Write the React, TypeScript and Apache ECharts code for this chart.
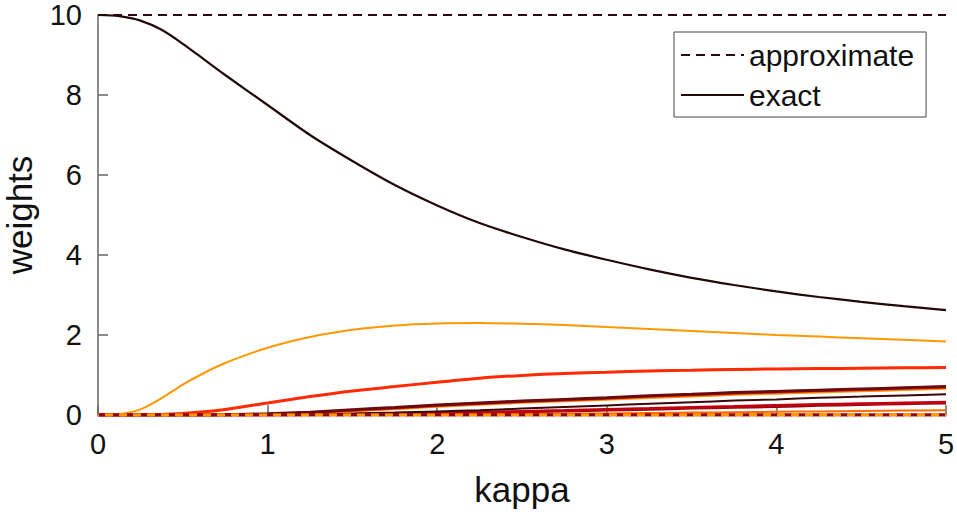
import React, { useEffect, useRef } from "react";
import * as echarts from "echarts";

const kappa = [0, 0.125, 0.25, 0.375, 0.5, 0.625, 0.75, 1, 1.25, 1.5, 1.75, 2, 2.25, 2.5, 2.75, 3, 3.25, 3.5, 3.75, 4, 4.25, 4.5, 4.75, 5];

const xTicks = [0, 1, 2, 3, 4, 5];
const yTicks = [0, 2, 4, 6, 8, 10];

// exact weights
const exact1 = [10, 9.97, 9.86, 9.63, 9.28, 8.89, 8.5, 7.75, 7.0, 6.35, 5.75, 5.24, 4.8, 4.45, 4.14, 3.88, 3.64, 3.43, 3.25, 3.09, 2.95, 2.83, 2.72, 2.62];
const exact2 = [0, 0.02, 0.14, 0.42, 0.76, 1.05, 1.3, 1.68, 1.95, 2.13, 2.24, 2.29, 2.3, 2.28, 2.25, 2.2, 2.15, 2.1, 2.05, 2.0, 1.96, 1.92, 1.88, 1.84];
const exact3 = [0, 0, 0.005, 0.015, 0.04, 0.08, 0.14, 0.3, 0.46, 0.6, 0.71, 0.82, 0.92, 0.99, 1.04, 1.07, 1.1, 1.12, 1.14, 1.15, 1.16, 1.17, 1.18, 1.19];
const exact4 = [0, 0, 0, 0, 0, 0, 0.005, 0.03, 0.07, 0.13, 0.19, 0.25, 0.3, 0.35, 0.39, 0.43, 0.48, 0.52, 0.56, 0.59, 0.62, 0.65, 0.68, 0.71];
const exact5 = [0, 0, 0, 0, 0, 0, 0.003, 0.02, 0.06, 0.11, 0.17, 0.23, 0.28, 0.33, 0.37, 0.41, 0.46, 0.5, 0.54, 0.57, 0.6, 0.63, 0.66, 0.69];
const exact6 = [0, 0, 0, 0, 0, 0, 0.002, 0.015, 0.05, 0.1, 0.15, 0.21, 0.26, 0.31, 0.35, 0.39, 0.43, 0.47, 0.51, 0.54, 0.57, 0.6, 0.63, 0.66];
const exact7 = [0, 0, 0, 0, 0, 0, 0, 0.01, 0.02, 0.04, 0.06, 0.09, 0.12, 0.16, 0.2, 0.24, 0.28, 0.32, 0.36, 0.39, 0.43, 0.46, 0.49, 0.52];
const exact8 = [0, 0, 0, 0, 0, 0, 0, 0, 0.01, 0.02, 0.03, 0.05, 0.07, 0.09, 0.11, 0.14, 0.16, 0.19, 0.21, 0.24, 0.26, 0.28, 0.3, 0.32];
const exact9 = [0, 0, 0, 0, 0, 0, 0, 0, 0.005, 0.01, 0.02, 0.03, 0.05, 0.07, 0.09, 0.11, 0.13, 0.16, 0.18, 0.2, 0.23, 0.25, 0.27, 0.29];
const exact10 = [0, 0, 0, 0, 0, 0, 0, 0, 0, 0.005, 0.01, 0.015, 0.02, 0.025, 0.03, 0.04, 0.05, 0.06, 0.07, 0.08, 0.09, 0.1, 0.11, 0.12];

// approximate weights (constant)
const approx1 = kappa.map(() => 10);
const approxZero = kappa.map(() => 0);

const exactSeries = [
  { values: exact10, color: "#ff6a00", width: 2 },
  { values: exact9, color: "#8a0a12", width: 2 },
  { values: exact8, color: "#c0000e", width: 3 },
  { values: exact7, color: "#3a080a", width: 2 },
  { values: exact6, color: "#ff9000", width: 2.5 },
  { values: exact5, color: "#e82a0a", width: 2.5 },
  { values: exact4, color: "#6a0a0c", width: 3 },
  { values: exact3, color: "#ff2a00", width: 3 },
  { values: exact2, color: "#ff9800", width: 2 },
];

const approxZeroColors = ["#c0000e", "#ff2a00", "#8a0a12", "#ff9800"];

const FONT = "'Liberation Sans', Arial, Helvetica, sans-serif";

function pairs(vals: number[]) {
  return kappa.map((k, i) => [k, vals[i]]);
}

export default function App() {
  const ref = useRef<HTMLDivElement>(null);
  useEffect(() => {
    if (!ref.current) return;
    const chart = echarts.init(ref.current, undefined, { renderer: "svg" });
    const series: any[] = [];
    series.push({
      name: "approximate",
      type: "line",
      data: pairs(approx1),
      symbol: "none",
      lineStyle: { color: "#2e0a10", width: 2.2, type: [9, 6] },
      itemStyle: { color: "#2e0a10" },
      z: 3,
    });
    series.push({
      name: "exact",
      type: "line",
      data: pairs(exact1),
      symbol: "none",
      smooth: 0.3,
      lineStyle: { color: "#220808", width: 2.2 },
      itemStyle: { color: "#3a0c12" },
      z: 3,
    });
    exactSeries.forEach((s) => {
      series.push({
        name: "exact",
        type: "line",
        data: pairs(s.values),
        symbol: "none",
        smooth: 0.3,
        lineStyle: { color: s.color, width: s.width },
        itemStyle: { color: s.color },
        z: 2,
      });
    });
    approxZeroColors.forEach((c, i) => {
      series.push({
        name: "approximate",
        type: "line",
        data: pairs(approxZero),
        symbol: "none",
        lineStyle: { color: c, width: 3, type: [8, 6], dashOffset: i % 2 === 0 ? 0 : 7 },
        itemStyle: { color: c },
        z: 4,
      });
    });

    chart.setOption({
      animation: false,
      backgroundColor: "#ffffff",
      textStyle: { fontFamily: FONT },
      grid: { left: 98, top: 15, right: 11, bottom: 106, containLabel: false, outerBoundsMode: "none" },
      legend: {
        data: ["approximate", "exact"],
        orient: "vertical",
        left: 674,
        top: 32,
        padding: [8, 12, 7, 6],
        itemWidth: 63,
        itemHeight: 14,
        itemGap: 10,
        selectedMode: false,
        borderColor: "#444",
        borderWidth: 1,
        backgroundColor: "#ffffff",
        itemStyle: { opacity: 0 },
        textStyle: { fontSize: 30, color: "#111", fontFamily: FONT, lineHeight: 30 },
      },
      xAxis: {
        type: "value",
        min: xTicks[0],
        max: xTicks[xTicks.length - 1],
        interval: 1,
        name: "kappa",
        nameLocation: "middle",
        nameGap: 57,
        nameTextStyle: { fontSize: 35, color: "#111", fontFamily: FONT },
        axisLine: { show: true, onZero: false, lineStyle: { color: "#666", width: 1.5 } },
        axisTick: { show: true, inside: true, length: 10, lineStyle: { color: "#666", width: 1.5 } },
        axisLabel: { fontSize: 29, color: "#111", margin: 17, fontFamily: FONT, lineHeight: 24 },
        splitLine: { show: false },
      },
      yAxis: {
        type: "value",
        min: yTicks[0],
        max: yTicks[yTicks.length - 1],
        interval: 2,
        name: "weights",
        nameLocation: "middle",
        nameGap: 63,
        nameTextStyle: { fontSize: 35, color: "#111", fontFamily: FONT, lineHeight: 32 },
        axisLine: { show: true, lineStyle: { color: "#666", width: 1.5 } },
        axisTick: { show: true, inside: true, length: 10, lineStyle: { color: "#666", width: 1.5 } },
        axisLabel: { fontSize: 29, color: "#111", margin: 16, fontFamily: FONT, lineHeight: 24 },
        splitLine: { show: false },
      },
      series,
    });
    return () => chart.dispose();
  }, []);
  return (
    <div
      ref={ref}
      style={{ position: "fixed", left: 0, top: 0, width: 957, height: 521, background: "#fff" }}
    />
  );
}
